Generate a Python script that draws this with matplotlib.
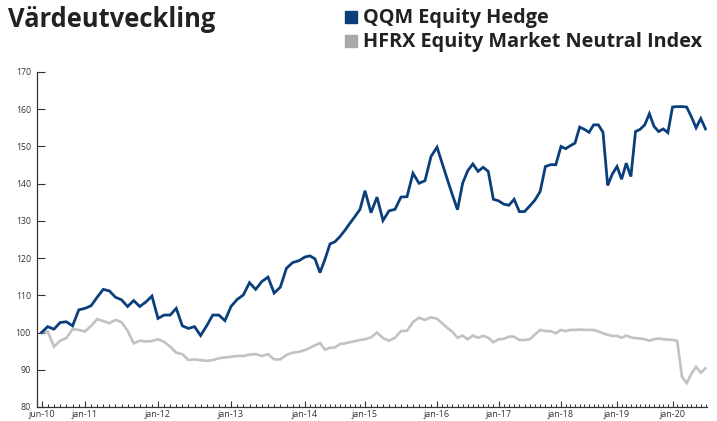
import numpy as np
import pandas as pd
import matplotlib
matplotlib.use("Agg")
import matplotlib.pyplot as plt
from matplotlib.ticker import FixedLocator, FixedFormatter

# monthly index values, jun-10 .. aug-20
months = pd.date_range("2010-06-01", "2020-08-01", freq="MS")

qqm = [100.0, 101.6, 100.9, 102.7, 102.9, 101.8, 106.1, 106.5, 107.2, 109.5,
       111.6, 111.2, 109.5, 108.8, 107.0, 108.6, 107.0, 108.2, 109.8, 103.8,
       104.7, 104.7, 106.5, 101.8, 101.1, 101.6, 99.2, 101.8, 104.7, 104.7,
       103.2, 107.0, 108.9, 110.1, 113.4, 111.6, 113.7, 114.9, 110.6, 112.2,
       117.3, 118.8, 119.3, 120.3, 120.6, 119.8, 116.1, 119.7, 123.8, 124.4,
       125.8, 127.5, 129.4, 131.2, 133.1, 138.1, 132.2, 136.4, 130.1, 132.7,
       133.1, 136.4, 136.5, 142.8, 140.1, 140.8, 147.3, 149.8, 145.5, 141.2,
       137.0, 133.0, 140.1, 143.5, 145.3, 143.3, 144.4, 143.3, 135.8, 135.4,
       134.5, 134.2, 135.8, 132.5, 132.5, 134.0, 135.6, 137.9, 144.6, 145.1,
       145.1, 150.0, 149.4, 150.2, 150.9, 155.2, 154.6, 153.8, 155.8, 155.8,
       153.8, 139.5, 142.6, 144.6, 141.2, 145.5, 141.9, 154.0, 154.6, 155.8,
       158.8, 155.4, 154.0, 154.7, 153.7, 160.6, 160.7, 160.7, 160.6, 158.0,
       155.0, 157.5, 154.7]

hfrx = [100.0, 100.3, 96.2, 97.8, 98.5, 100.9, 100.7, 100.3, 101.8, 103.6,
        103.1, 102.5, 103.4, 102.8, 100.5, 97.1, 97.8, 97.6, 97.7, 98.2,
        97.5, 96.2, 94.6, 94.2, 92.6, 92.8, 92.6, 92.4, 92.6, 93.1,
        93.3, 93.5, 93.7, 93.7, 94.1, 94.2, 93.7, 94.2, 92.8, 92.8,
        94.0, 94.6, 94.8, 95.3, 95.9, 96.6, 97.2, 95.4, 95.9, 96.0,
        96.9, 97.1, 97.4, 97.7, 98.0, 98.2, 98.7, 100.0, 98.5, 97.8,
        98.6, 100.4, 100.5, 102.8, 104.0, 103.4, 104.1, 103.7, 102.5, 101.3,
        100.2, 98.6, 99.2, 98.2, 99.2, 98.6, 99.1, 98.6, 97.4, 98.2,
        98.3, 98.9, 98.9, 98.0, 98.0, 98.2, 99.5, 100.7, 100.4, 100.4,
        99.8, 100.7, 100.4, 100.7, 100.7, 100.8, 100.7, 100.7, 100.7, 100.3,
        99.8, 99.4, 99.1, 99.1, 98.6, 99.2, 98.7, 98.5, 98.4, 98.2,
        97.8, 98.2, 98.4, 98.2, 98.1, 98.0, 97.8, 88.2, 86.4, 88.9,
        90.8, 89.2, 90.4]

tick_months = ["2010-06", "2011-01", "2012-01", "2013-01", "2014-01", "2015-01",
               "2016-01", "2017-01", "2018-01", "2019-01", "2020-01"]
tick_labels = ["jun-10", "jan-11", "jan-12", "jan-13", "jan-14", "jan-15",
               "jan-16", "jan-17", "jan-18", "jan-19", "jan-20"]
yticks = [80, 90, 100, 110, 120, 130, 140, 150, 160, 170]

blue = "#0b3f7c"
grey = "#c2c2c2"
ink = "#333333"

x = np.arange(len(months))
tick_pos = [months.get_loc(pd.Timestamp(m)) for m in tick_months]

# the printed time axis is not evenly spaced: each year gets its own width
scale_months = [-2, 0, 7, 19, 31, 43, 55, 67, 79, 91, 103, 115, 122, 124]
scale_px = [29, 41.5, 85, 158, 231, 305, 365, 437, 498.5, 561, 617, 672.5, 705.5, 715]


def fwd(m):
    return np.interp(m, scale_months, scale_px)


def inv(p):
    return np.interp(p, scale_px, scale_months)


W, H = 717, 421
fig = plt.figure(figsize=(W / 100, H / 100), dpi=100)
ax = fig.add_axes([36.5 / W, (H - 407) / H, (706.5 - 36.5) / W, (407 - 72) / H])

ax.plot(x, hfrx, color=grey, lw=1.9, solid_joinstyle="miter")
ax.plot(x, qqm, color=blue, lw=2.0, solid_joinstyle="miter")

ax.set_xscale("function", functions=(fwd, inv))
ax.set_xlim(inv(36.5), inv(706.5))
ax.set_ylim(80, 170)

ax.xaxis.set_major_locator(FixedLocator(tick_pos))
ax.xaxis.set_major_formatter(FixedFormatter(tick_labels))
ax.xaxis.set_minor_locator(FixedLocator(x))
ax.set_yticks(yticks)

for s in ["top", "right"]:
    ax.spines[s].set_visible(False)
for s in ["left", "bottom"]:
    ax.spines[s].set_color(ink)
    ax.spines[s].set_linewidth(0.9)

ax.tick_params(axis="x", which="major", direction="in", length=4.5, width=0.8,
               color=ink, pad=2, labelsize=6.5, labelcolor=ink)
ax.tick_params(axis="x", which="minor", direction="in", length=2.2, width=0.7, color=ink)
ax.tick_params(axis="y", direction="in", length=6, width=0.8, color=ink,
               pad=4, labelsize=6.3, labelcolor=ink)
for lab in ax.get_xticklabels() + ax.get_yticklabels():
    lab.set_fontfamily("Open Sans")

# title and legend
fig.text(8 / W, 1 - 27 / H, "Värdeutveckling", fontsize=18.4, fontweight="bold",
         family="Open Sans", color="#222222", va="baseline")
entries = [("QQM Equity Hedge", blue), ("HFRX Equity Market Neutral Index", "#a9a9a9")]
for i, (name, col) in enumerate(entries):
    top = 11 + 24 * i
    fig.patches.append(plt.Rectangle((345 / W, 1 - (top + 12) / H), 12 / W, 12 / H,
                                     transform=fig.transFigure, color=col, figure=fig))
    fig.text(363 / W, 1 - (top + 12.5) / H, name, fontsize=14.3, fontweight="bold",
             family="Open Sans", color="#222222", va="baseline")

fig.savefig("out.png", dpi=100)
